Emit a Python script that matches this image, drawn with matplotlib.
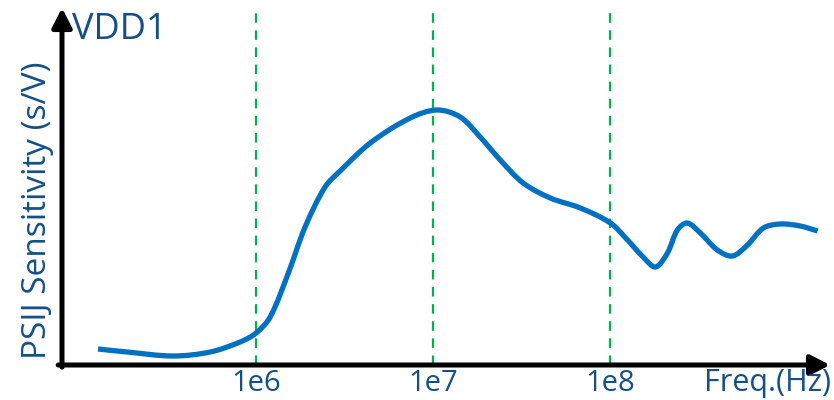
import matplotlib
matplotlib.use("Agg")
import matplotlib.pyplot as plt
from matplotlib.path import Path
from matplotlib.patches import PathPatch
import numpy as np

plt.rcParams['font.family'] = ['Open Sans', 'DejaVu Sans']

# Data (frequency in Hz, sensitivity in arbitrary units)
freq_hz = [1.28e5, 1.87e5, 3.40e5, 5.50e5, 8.12e5, 1.00e6, 1.20e6, 1.52e6,
           1.89e6, 2.45e6, 2.98e6, 4.41e6, 7.41e6, 1.05e7, 1.42e7, 1.84e7,
           2.39e7, 3.22e7, 4.58e7, 6.77e7, 1.00e8, 1.25e8, 1.53e8, 1.80e8,
           2.10e8, 2.39e8, 2.72e8, 3.22e8, 4.02e8, 4.89e8, 5.94e8, 7.31e8,
           9.12e8, 1.18e9, 1.48e9]
sensitivity = [16, 13, 9, 13, 23, 32, 48, 92,
               138, 178, 194, 222, 247, 255, 248, 228,
               205, 182, 167, 157, 142, 125, 108, 98,
               112, 135, 142, 132, 115, 109, 120, 137,
               141, 139, 134]
ref_freqs = [1e6, 1e7, 1e8]
tick_labels = ['1e6', '1e7', '1e8']
x_label = 'Freq.(Hz)'
y_label = 'PSIJ Sensitivity (s/V)'
title_text = 'VDD1'

W, H = 834, 400
fig = plt.figure(figsize=(W / 100, H / 100), dpi=100)
ax_l, ax_b, ax_r, ax_t = 62, 365, 830, 8
ax = fig.add_axes([ax_l / W, 1 - ax_b / H, (ax_r - ax_l) / W, (ax_b - ax_t) / H])
ax.set_xscale('log')
ax.set_xlim(10 ** 4.904, 10 ** 9.24)
ax.set_ylim(0, 357)
for s in ax.spines.values():
    s.set_visible(False)
ax.set_xticks([])
ax.set_yticks([])
ax.minorticks_off()

text_color = '#154f86'
line_color = '#0070c0'
green = '#00b050'

for f in ref_freqs:
    ax.axvline(f, color=green, lw=1.6, dashes=(4.3, 3.4), zorder=1)

# smooth curve through the read points: chord-length cubic Hermite as Bezier segments
decade_scale = 177.0  # screen-like scaling for the parametrisation only
u = np.log10(np.array(freq_hz))
v = np.array(sensitivity, dtype=float)
P = np.column_stack([u * decade_scale, v])
d = np.sqrt(((P[1:] - P[:-1]) ** 2).sum(axis=1))
t = np.concatenate([[0], np.cumsum(d)])
n = len(P)
M = np.zeros_like(P)
for i in range(n):
    a, b = max(i - 1, 0), min(i + 1, n - 1)
    M[i] = (P[b] - P[a]) / (t[b] - t[a])
verts = [P[0]]
codes = [Path.MOVETO]
for i in range(n - 1):
    h = t[i + 1] - t[i]
    verts += [P[i] + M[i] * h / 3.0, P[i + 1] - M[i + 1] * h / 3.0, P[i + 1]]
    codes += [Path.CURVE4] * 3
verts = np.array(verts)
verts[:, 0] = 10 ** (verts[:, 0] / decade_scale)
ax.add_patch(PathPatch(Path(verts, codes), fill=False, edgecolor=line_color, lw=3.8,
                       capstyle='butt', joinstyle='round', zorder=3))

# axes with arrows
arrow_kw = dict(arrowstyle='-|>,head_length=0.58,head_width=0.3', color='black',
                lw=3.6, shrinkA=0, shrinkB=0, mutation_scale=20)
ax.annotate('', xy=(0, 1.0), xytext=(0, -0.006), xycoords='axes fraction',
            arrowprops=arrow_kw, annotation_clip=False, zorder=5)
ax.annotate('', xy=(1.0, 0), xytext=(-0.005, 0), xycoords='axes fraction',
            arrowprops=arrow_kw, annotation_clip=False, zorder=5)

for f, lab in zip(ref_freqs, tick_labels):
    ax.text(f, -0.052, lab, transform=ax.get_xaxis_transform(), ha='center', va='center',
            fontsize=21, color=text_color)
fig.text(831 / W, 1 - 383 / H, x_label, ha='right', va='center', fontsize=22, color=text_color)
fig.text(38 / W, 1 - 210 / H, y_label, ha='center', va='center', rotation=90,
         fontsize=24, color=text_color)
fig.text(72 / W, 1 - 30 / H, title_text, ha='left', va='center', fontsize=26, color=text_color)

fig.savefig('out.png', dpi=100)
